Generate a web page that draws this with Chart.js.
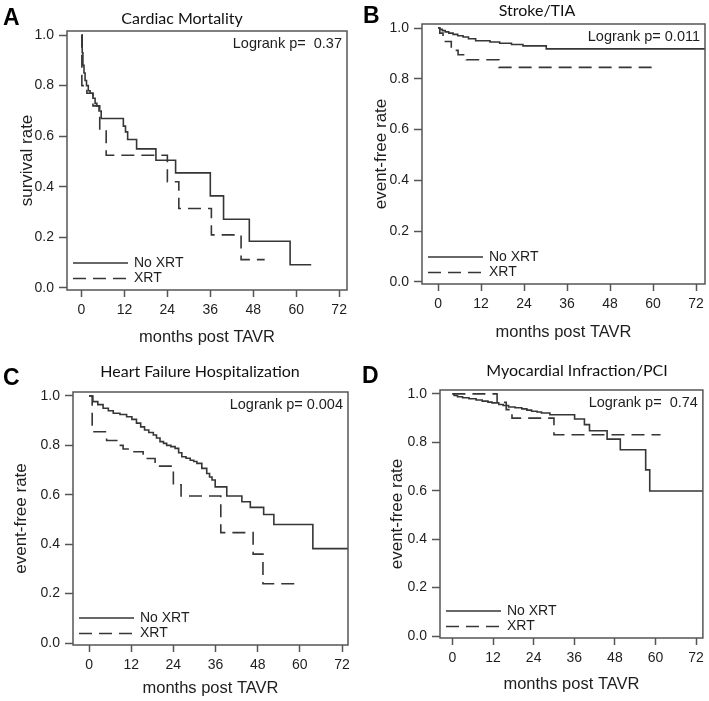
<!DOCTYPE html>
<html><head><meta charset="utf-8">
<script src="https://cdn.jsdelivr.net/npm/chart.js@4.4.1/dist/chart.umd.min.js"></script>
<style>
html,body{margin:0;padding:0;background:#fff;}
#wrap{position:relative;width:709px;height:701px;overflow:hidden;background:#fff;}
canvas{position:absolute;}
</style></head><body><div id="wrap">
<canvas id="cA" width="355" height="350" style="left:0;top:0"></canvas>
<canvas id="cB" width="354" height="350" style="left:355px;top:0"></canvas>
<canvas id="cC" width="355" height="351" style="left:0;top:350px"></canvas>
<canvas id="cD" width="354" height="351" style="left:355px;top:350px"></canvas>
</div>
<script>
// ---------- data ----------
const xTicks = [0, 12, 24, 36, 48, 60, 72];
const yTicks = [0, 0.2, 0.4, 0.6, 0.8, 1.0];
const seriesLabels = ['No XRT', 'XRT'];
const xTitle = 'months post TAVR';
const panelLetters = ['A', 'B', 'C', 'D'];
const panelTitles = ['Cardiac Mortality', 'Stroke/TIA', 'Heart Failure Hospitalization', 'Myocardial Infraction/PCI'];
const yTitles = ['survival rate', 'event-free rate', 'event-free rate', 'event-free rate'];
const logrankTexts = ['Logrank p=  0.37', 'Logrank p= 0.011', 'Logrank p= 0.004', 'Logrank p=  0.74'];

// A: Cardiac Mortality
const aNoXrtMonths = [0, 0.2, 0.4, 0.7, 1.0, 1.4, 1.9, 2.4, 3.2, 3.8, 4.3, 4.9, 5.5, 11.7, 12.3, 12.9, 15.4, 20.8, 26.3, 36.0, 39.7, 46.9, 58.3, 64.2];
const aNoXrtRate   = [1.0, 0.93, 0.88, 0.85, 0.82, 0.80, 0.78, 0.77, 0.75, 0.73, 0.72, 0.70, 0.67, 0.64, 0.617, 0.587, 0.55, 0.505, 0.455, 0.364, 0.272, 0.185, 0.092, 0.092];
const aXrtMonths   = [0, 0.1, 1.5, 3.2, 5.1, 6.9, 24.0, 27.2, 36.3, 44.6, 51.2];
const aXrtRate     = [1.0, 0.80, 0.77, 0.72, 0.62, 0.525, 0.42, 0.314, 0.21, 0.112, 0.112];

// B: Stroke/TIA
const bNoXrtMonths = [0, 0.5, 1.2, 2.0, 3.0, 4.2, 5.5, 7.0, 8.5, 10.5, 14.5, 17.2, 20.5, 23.7, 30.2, 74.5];
const bNoXrtRate   = [1.0, 0.995, 0.99, 0.985, 0.98, 0.975, 0.97, 0.965, 0.958, 0.95, 0.945, 0.94, 0.935, 0.93, 0.918, 0.918];
const bXrtMonths   = [0, 0.5, 1.4, 3.7, 5.6, 7.9, 17.0, 60.9];
const bXrtRate     = [1.0, 0.98, 0.947, 0.912, 0.895, 0.875, 0.845, 0.845];

// C: Heart Failure Hospitalization
const cNoXrtMonths = [0, 1.1, 2.5, 4.0, 5.5, 6.9, 8.8, 10.7, 12.2, 13.5, 14.7, 15.8, 17.0, 18.3, 19.2, 20.2, 21.2, 22.1, 23.3, 24.5, 25.5, 26.4, 27.6, 28.8, 29.8, 30.7, 32.1, 33.5, 34.3, 35.0, 35.9, 39.2, 43.5, 45.9, 49.7, 52.6, 63.7, 74.0];
const cNoXrtRate   = [1.0, 0.977, 0.965, 0.95, 0.94, 0.93, 0.925, 0.916, 0.905, 0.89, 0.875, 0.862, 0.852, 0.842, 0.83, 0.815, 0.808, 0.80, 0.795, 0.788, 0.77, 0.754, 0.748, 0.74, 0.735, 0.727, 0.707, 0.686, 0.672, 0.66, 0.632, 0.595, 0.572, 0.549, 0.52, 0.48, 0.382, 0.382];
const cXrtMonths   = [0, 0.9, 5.0, 8.3, 9.7, 12.1, 15.4, 18.8, 24.0, 26.2, 37.5, 46.7, 49.5, 60.3];
const cXrtRate     = [1.0, 0.855, 0.82, 0.80, 0.785, 0.774, 0.747, 0.716, 0.64, 0.595, 0.447, 0.36, 0.24, 0.24];

// D: Myocardial Infraction/PCI
const dNoXrtMonths = [0, 0.5, 1.5, 3.0, 4.9, 7.0, 8.8, 10.5, 11.7, 13.7, 15.0, 16.6, 18.5, 20.5, 22.0, 23.4, 25.0, 26.3, 28.8, 36.1, 39.0, 40.5, 45.7, 49.6, 57.1, 58.3, 74.5];
const dNoXrtRate   = [1.0, 0.993, 0.988, 0.984, 0.98, 0.975, 0.97, 0.966, 0.963, 0.956, 0.952, 0.946, 0.943, 0.938, 0.933, 0.928, 0.925, 0.921, 0.914, 0.896, 0.873, 0.848, 0.813, 0.769, 0.686, 0.599, 0.599];
const dXrtMonths   = [0, 13.2, 15.9, 17.6, 30.0, 61.5];
const dXrtRate     = [1.0, 0.965, 0.935, 0.90, 0.831, 0.831];

// ---------- rendering ----------
Chart.defaults.font.family = '"Liberation Sans", Arial, sans-serif';
const INK = '#1e1e1e';
const LINE = '#363636';
const FRAME = '#555';

const toPts = (xs, ys) => xs.map((x, i) => ({x: x, y: ys[i]}));

const panelPlugin = {
  id: 'panelDecor',
  afterDraw(chart) {
    const o = chart.options.plugins.panelDecor;
    const ctx = chart.ctx;
    const a = chart.chartArea;
    ctx.save();
    // frame
    ctx.strokeStyle = FRAME;
    ctx.lineWidth = 1.5;
    ctx.setLineDash([]);
    ctx.strokeRect(a.left, a.top, a.right - a.left, a.bottom - a.top);
    // panel letter
    ctx.fillStyle = '#000';
    ctx.font = 'bold 23px "Liberation Sans", Arial, sans-serif';
    ctx.textAlign = 'left';
    ctx.textBaseline = 'alphabetic';
    ctx.fillText(o.letter, o.letterX, o.letterY);
    // title
    ctx.fillStyle = '#111';
    ctx.font = '16px Lato, "Open Sans", sans-serif';
    ctx.textAlign = 'center';
    ctx.textBaseline = 'middle';
    ctx.fillText(o.title, o.titleX, o.titleY);
    // logrank
    ctx.fillStyle = INK;
    ctx.font = '14.5px "Liberation Sans", Arial, sans-serif';
    ctx.textAlign = 'right';
    ctx.fillText(o.logrank, a.right - 5, a.top + 13);
    // legend
    const ds = chart.data.datasets;
    const rows = [a.bottom - 27, a.bottom - 11.5];
    ctx.font = '14px "Liberation Sans", Arial, sans-serif';
    ctx.textAlign = 'left';
    ds.forEach((d, i) => {
      ctx.strokeStyle = LINE;
      ctx.lineWidth = 1.5;
      ctx.setLineDash(d.borderDash || []);
      ctx.beginPath();
      ctx.moveTo(a.left + 6, rows[i]);
      ctx.lineTo(a.left + 61, rows[i]);
      ctx.stroke();
      ctx.fillStyle = INK;
      ctx.fillText(d.label, a.left + 67, rows[i]);
    });
    ctx.restore();
  }
};

function makePanel(id, g) {
  return new Chart(document.getElementById(id), {
    type: 'line',
    data: {
      datasets: [
        {label: seriesLabels[0], data: toPts(g.t1, g.v1), stepped: true, borderColor: LINE, borderWidth: 1.6, pointRadius: 0, fill: false},
        {label: seriesLabels[1], data: toPts(g.t2, g.v2), stepped: true, borderColor: LINE, borderWidth: 1.6, borderDash: [13, 7], pointRadius: 0, fill: false}
      ]
    },
    options: {
      responsive: false,
      animation: false,
      events: [],
      layout: {padding: {top: g.padTop, right: g.padRight, left: 0, bottom: 0}},
      plugins: {
        legend: {display: false},
        tooltip: {enabled: false},
        panelDecor: {letter: g.letter, letterX: g.letterX, letterY: g.letterY, title: g.title, titleX: g.titleX, titleY: g.titleY, logrank: g.logrank}
      },
      scales: {
        x: {
          type: 'linear', min: g.xmin, max: g.xmax,
          afterFit: s => { s.height = g.xH; },
          afterBuildTicks: s => { s.ticks = xTicks.map(v => ({value: v})); },
          grid: {drawOnChartArea: false, drawTicks: true, tickLength: 7, tickColor: FRAME, tickWidth: 1.5},
          border: {display: false},
          ticks: {color: INK, font: {size: 14}, padding: 5, maxRotation: 0, autoSkip: false, callback: v => String(v)},
          title: {display: true, text: xTitle, color: INK, font: {size: 16.5}, padding: {top: 0, bottom: g.xTitlePad}}
        },
        y: {
          type: 'linear', min: -0.008, max: 1.016,
          afterFit: s => { s.width = g.yW; },
          afterBuildTicks: s => { s.ticks = yTicks.map(v => ({value: v})); },
          grid: {drawOnChartArea: false, drawTicks: true, tickLength: 8, tickColor: FRAME, tickWidth: 1.5},
          border: {display: false},
          ticks: {color: INK, font: {size: 14}, padding: 5, autoSkip: false, callback: v => Number(v).toFixed(1)},
          title: {display: true, text: g.yTitle, color: INK, font: {size: 17}, padding: {top: g.yTitlePad, bottom: 0}}
        }
      }
    },
    plugins: [panelPlugin]
  });
}

makePanel('cA', {t1: aNoXrtMonths, v1: aNoXrtRate, t2: aXrtMonths, v2: aXrtRate,
  padTop: 31, padRight: 8, yW: 67, xH: 60, xmin: -4.05, xmax: 74.2, yTitlePad: 16.8, xTitlePad: 2.2,
  letter: panelLetters[0], letterX: 3, letterY: 25, title: panelTitles[0], titleX: 182, titleY: 19,
  yTitle: yTitles[0], logrank: logrankTexts[0]});
makePanel('cB', {t1: bNoXrtMonths, v1: bNoXrtRate, t2: bXrtMonths, v2: bXrtRate,
  padTop: 24, padRight: 4, yW: 67, xH: 66, xmin: -4.47, xmax: 74.5, yTitlePad: 15.8, xTitlePad: 7.2,
  letter: panelLetters[1], letterX: 8, letterY: 23, title: panelTitles[1], titleX: 182, titleY: 11,
  yTitle: yTitles[1], logrank: logrankTexts[1]});
makePanel('cC', {t1: cNoXrtMonths, v1: cNoXrtRate, t2: cXrtMonths, v2: cXrtRate,
  padTop: 42, padRight: 7, yW: 73, xH: 56, xmin: -4.56, xmax: 73.7, yTitlePad: 10.8, xTitlePad: 2.2,
  letter: panelLetters[2], letterX: 3, letterY: 35, title: panelTitles[2], titleX: 200, titleY: 22,
  yTitle: yTitles[2], logrank: logrankTexts[2]});
makePanel('cD', {t1: dNoXrtMonths, v1: dNoXrtRate, t2: dXrtMonths, v2: dXrtRate,
  padTop: 40, padRight: 4, yW: 85, xH: 63, xmin: -3.67, xmax: 74.0, yTitlePad: 31.8, xTitlePad: 6.2,
  letter: panelLetters[3], letterX: 7, letterY: 33, title: panelTitles[3], titleX: 222, titleY: 21,
  yTitle: yTitles[3], logrank: logrankTexts[3]});
</script>
</body></html>
